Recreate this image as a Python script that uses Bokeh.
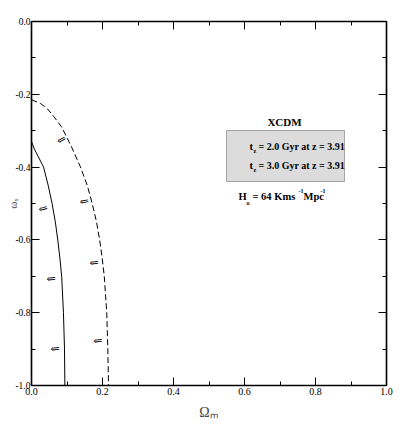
from bokeh.plotting import figure
from bokeh.models import Label, LinearAxis, FixedTicker, BoxAnnotation
from bokeh.embed import file_html
from bokeh.resources import INLINE
import math

# Curve data (Omega_m, omega_x)
dash_om = [0.0, 0.025, 0.045, 0.062, 0.085, 0.113, 0.138, 0.157, 0.171, 0.183, 0.192, 0.199, 0.205, 0.212, 0.215, 0.217]
dash_w = [-0.215, -0.225, -0.24, -0.26, -0.29, -0.345, -0.40, -0.45, -0.50, -0.55, -0.60, -0.65, -0.70, -0.80, -0.90, -1.0]
solid_om = [0.0, 0.008, 0.034, 0.047, 0.058, 0.067, 0.074, 0.080, 0.085, 0.090, 0.093, 0.094]
solid_w = [-0.33, -0.35, -0.40, -0.45, -0.50, -0.55, -0.60, -0.65, -0.70, -0.80, -0.90, -1.0]

# arrow markers (Omega_m, omega_x, angle deg)
dash_arrows = [(0.096, -0.319, 30), (0.161, -0.492, 10), (0.189, -0.662, 5), (0.200, -0.876, 5)]
solid_arrows = [(0.045, -0.511, 15), (0.068, -0.706, 5), (0.079, -0.898, 5)]

x_ticks = [0.0, 0.2, 0.4, 0.6, 0.8, 1.0]
y_ticks = [0.0, -0.2, -0.4, -0.6, -0.8, -1.0]

FONT = "Liberation Serif"

p = figure(frame_width=355, frame_height=364, x_range=(0, 1), y_range=(-1, 0),
           output_backend="svg", toolbar_location=None,
           min_border_left=31, min_border_right=8, min_border_top=21, min_border_bottom=36)
p.xgrid.visible = False
p.ygrid.visible = False
p.outline_line_color = "black"
p.outline_line_width = 1.2
p.background_fill_color = "white"

def style_axis(ax, ticks, show_labels, size="10px"):
    ax.ticker = FixedTicker(ticks=ticks, minor_ticks=[t / 10 for t in range(-10, 11)])
    ax.major_tick_in = 8
    ax.major_tick_out = 0
    ax.minor_tick_in = 4
    ax.minor_tick_out = 0
    ax.axis_line_color = "black"
    ax.axis_line_width = 1.5
    ax.major_tick_line_color = "black"
    ax.minor_tick_line_color = "black"
    ax.major_label_text_font = FONT
    ax.major_label_text_font_size = size
    ax.major_label_text_color = "black"
    ax.major_label_standoff = 2
    if not show_labels:
        ax.major_label_text_alpha = 0
        ax.major_label_text_font_size = "1px"
        ax.major_label_standoff = 0

style_axis(p.xaxis[0], x_ticks, True)
style_axis(p.yaxis[0], y_ticks, True, size="9.5px")
p.yaxis[0].major_label_standoff = 1
p.xaxis[0].major_label_overrides = {t: f"{t:.1f}" for t in x_ticks}
p.yaxis[0].major_label_overrides = {t: f"{t:.1f}" for t in y_ticks}

p.xaxis[0].axis_label = "\u03a9\u2098"
p.xaxis[0].axis_label_text_font = FONT
p.xaxis[0].axis_label_text_font_size = "14px"
p.xaxis[0].axis_label_text_font_style = "normal"
p.xaxis[0].axis_label_standoff = 7
p.yaxis[0].axis_label = "\u03c9\u2093"
p.yaxis[0].axis_label_text_font = FONT
p.yaxis[0].axis_label_text_font_size = "11px"
p.yaxis[0].axis_label_text_font_style = "normal"
p.yaxis[0].axis_label_standoff = -7

top = LinearAxis()
right = LinearAxis()
p.add_layout(top, "above")
p.add_layout(right, "right")
style_axis(top, x_ticks, False)
style_axis(right, y_ticks, False)

p.line(dash_om, dash_w, line_color="black", line_width=1, line_dash="6 3")
p.line(solid_om, solid_w, line_color="black", line_width=1)

for (xa, ya, ang) in dash_arrows + solid_arrows:
    p.add_layout(Label(x=xa, y=ya, text="\u21d0", text_font="DejaVu Serif", text_font_size="11px",
                       text_align="right", text_baseline="middle", angle=math.radians(ang),
                       text_color="black"))

# reference pixel -> data helpers for annotation placement
def dx(px):
    return (px - 31) / 355.0

def dy(py):
    return -(py - 21) / 364.0

# legend box
p.add_layout(BoxAnnotation(left=dx(226), right=dx(344), top=dy(130), bottom=dy(181),
                           fill_color="#dcdcdc", fill_alpha=1, line_color="black", line_width=1))
p.line([dx(231), dx(243)], [dy(146), dy(146)], line_color="black", line_width=1, line_dash="4 3")
p.line([dx(231), dx(243)], [dy(165), dy(165)], line_color="black", line_width=1.2)

def lab(px, py, txt, size="10px", align="left", bold=True, baseline="middle", angle=0):
    p.add_layout(Label(x=dx(px), y=dy(py), text=txt, text_font=FONT, text_font_size=size,
                       text_font_style="bold" if bold else "normal", text_align=align,
                       text_baseline=baseline, text_color="black", angle=angle))

lab(284, 121, "XCDM", size="11px", align="center")
for yy, val in [(146, "2.0"), (165, "3.0")]:
    lab(249, yy, "t", size="10.5px")
    lab(253, yy + 4, "z", size="6px")
    lab(258, yy, f"= {val} Gyr at z = 3.91", size="10px")

# H0 line
lab(238, 196, "H", size="10.5px")
lab(246, 202, "o", size="6px")
lab(252, 196, "= 64 Kms", size="10.5px")
lab(298, 190, "-1", size="6px")
lab(303, 196, "Mpc", size="10.5px")
lab(320, 190, "-1", size="6px")

open("out.html", "w").write(file_html(p, INLINE))
